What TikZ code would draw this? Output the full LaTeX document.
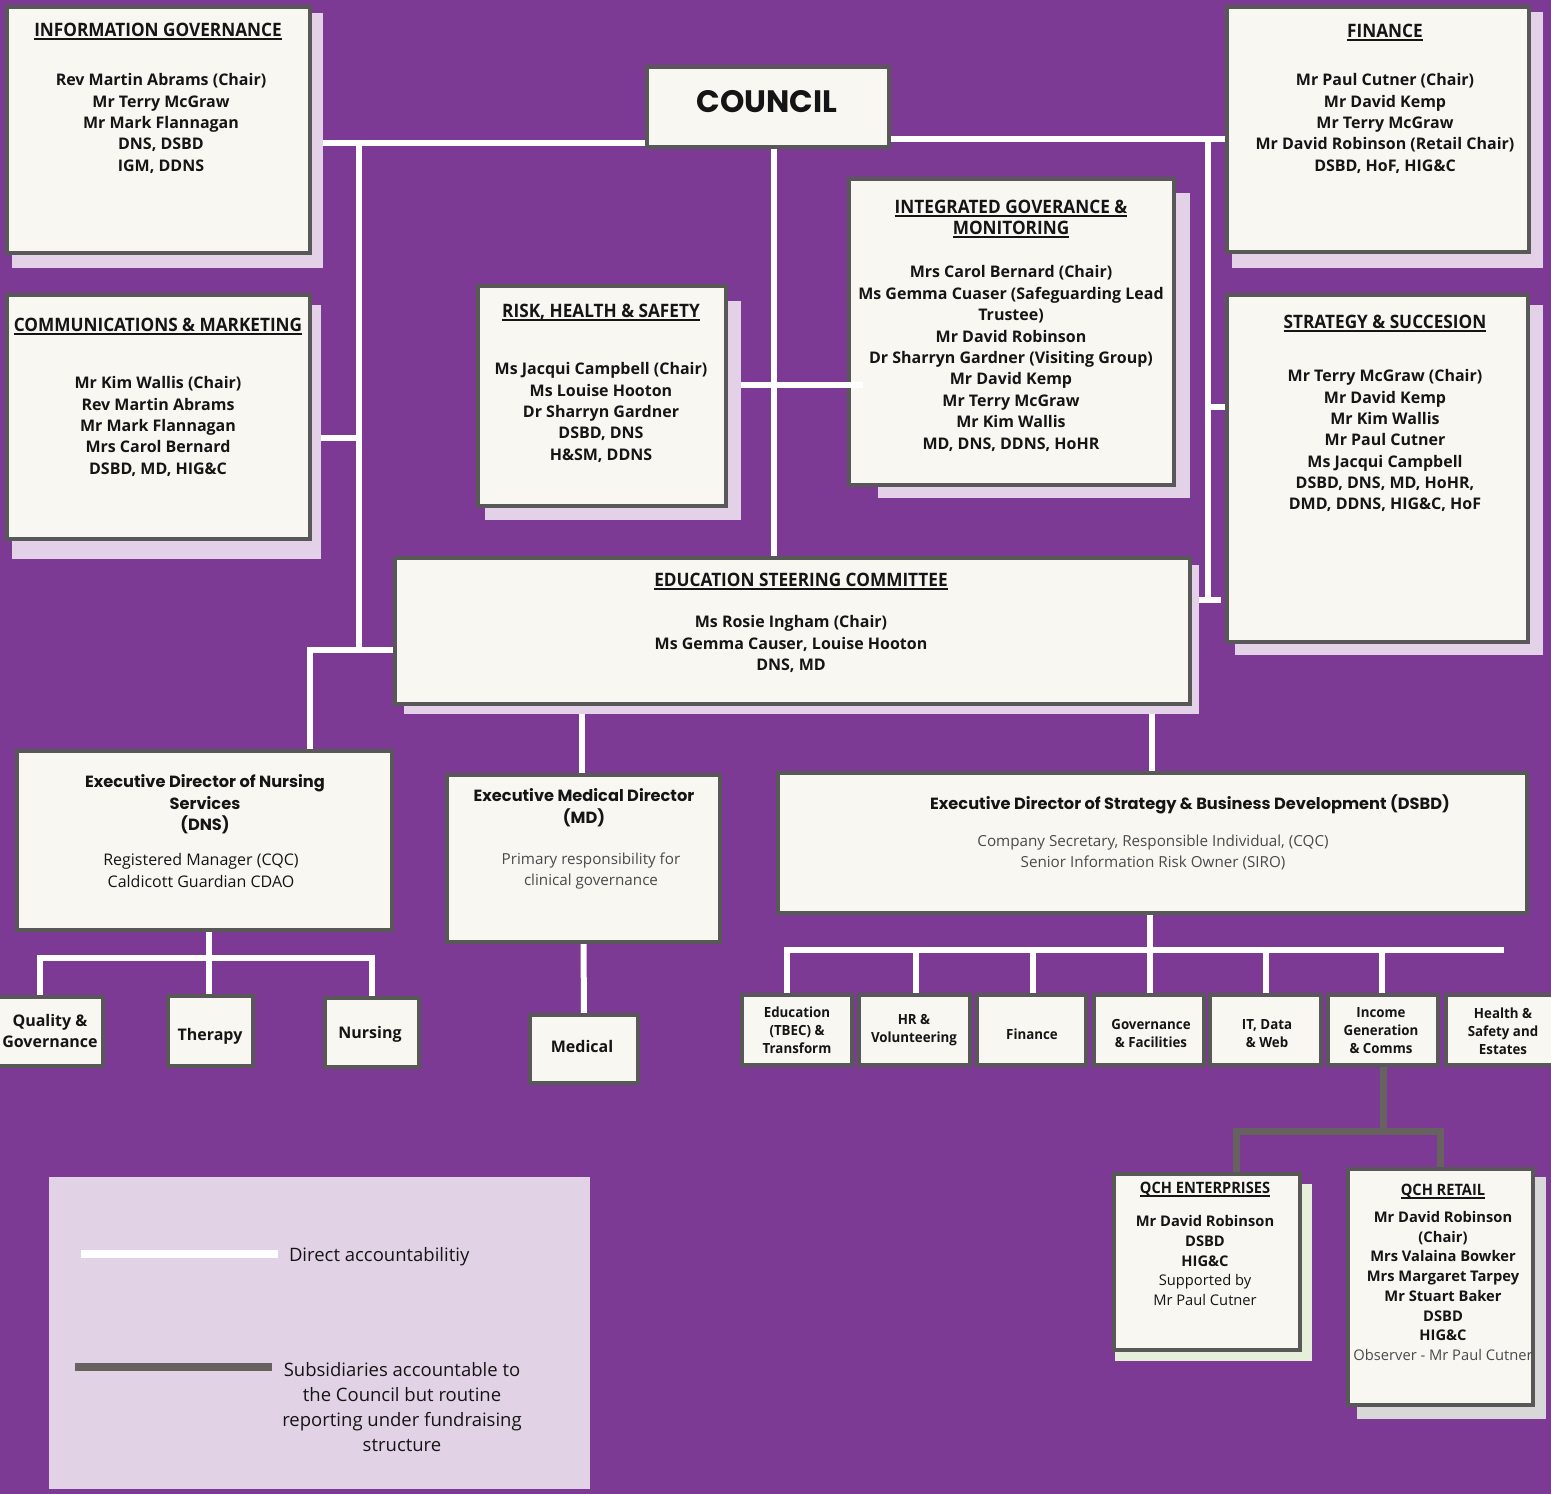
\documentclass[tikz,border=0pt]{standalone}
\usepackage{fontspec}
\setmainfont{Open Sans}
\newfontfamily\geo{Poppins}
\newfontfamily\cond[FakeStretch=0.93]{Open Sans}
\newfontfamily\condb[FakeStretch=0.95]{Open Sans}
\usetikzlibrary{calc}
\definecolor{bgp}{HTML}{7C3A94}
\definecolor{boxfill}{HTML}{F8F7F2}
\definecolor{boxline}{HTML}{585858}
\definecolor{lav}{HTML}{E3D2E7}
\definecolor{legbg}{HTML}{E2D2E6}
\definecolor{grayline}{HTML}{676260}
\definecolor{tdark}{HTML}{151515}
\definecolor{tgray}{HTML}{4A4A4A}
\definecolor{entshadow}{HTML}{E5EFD9}
\definecolor{retshadow}{HTML}{D8D8D8}
\pgfdeclarelayer{back}\pgfdeclarelayer{lines}\pgfdeclarelayer{shade}
\pgfsetlayers{back,lines,shade,main}
\newsavebox\ulb
\newcommand\ulin[1]{\sbox\ulb{#1}\usebox\ulb\llap{\rule[-3.3pt]{\wd\ulb}{1.8pt}}}
\newcommand\mkbox[5]{\node[box, anchor=north west, minimum width={(#4-#2-4)*1pt}, minimum height={(#5-#3-4)*1pt}] (#1) at (#2+2,#3+2) {};}
\begin{document}
\begin{tikzpicture}[x=1pt,y=-1pt,
  box/.style={draw=boxline, line width=4pt, fill=boxfill, inner sep=0pt, outer sep=0pt},
  wl/.style={draw=white, line width=6pt},
  gl/.style={draw=grayline, line width=7pt},
  lbl/.style={anchor=north, inner sep=0pt, outer sep=0pt, align=center, text=tdark, execute at begin node=\strut},
  ttl/.style={lbl, font=\cond\bfseries\fontsize{18.5}{21}\selectfont, yshift=8pt},
  body/.style={lbl, font=\bfseries\fontsize{16}{21.3}\selectfont, yshift=4.2pt},
  counciltxt/.style={lbl, font=\geo\bfseries\fontsize{31}{36}\selectfont, yshift=14pt},
  xtitle/.style={lbl, font=\geo\bfseries\fontsize{16.2}{21.5}\selectfont, yshift=6.2pt},
  xsub/.style={lbl, font=\fontsize{16}{22}\selectfont, text=tdark, yshift=4.6pt},
  gsub/.style={lbl, font=\fontsize{15.2}{21}\selectfont, text=tgray, yshift=4.3pt},
  small/.style={lbl, font=\bfseries\fontsize{16}{21}\selectfont, yshift=7.4pt},
  tiny/.style={lbl, font=\condb\bfseries\fontsize{14}{18}\selectfont, yshift=4.5pt},
  qttl/.style={lbl, font=\cond\bfseries\fontsize{15.7}{20}\selectfont, yshift=8.3pt},
  qbody/.style={lbl, font=\fontsize{14.7}{19.8}\selectfont, yshift=4.6pt},
  leg/.style={lbl, font=\fontsize{18.5}{25}\selectfont, text=tdark, yshift=10.9pt}]
\useasboundingbox (0,0) rectangle (1551,1494);
\begin{pgfonlayer}{back}
\fill[bgp] (0,0) rectangle (1551,1494);
\fill[legbg] (49,1177) rectangle (590,1489);
\end{pgfonlayer}

% boxes
\mkbox{info}{5}{5}{312}{255}
\mkbox{comms}{5}{293}{312}{541}
\mkbox{risk}{476}{284}{728}{508}
\mkbox{igm}{847}{177}{1176}{487}
\mkbox{fin}{1225}{5}{1531}{254}
\mkbox{strat}{1225}{293}{1530}{644}
\mkbox{council}{645}{65}{891}{149}
\mkbox{edu}{393}{556}{1192}{706}
\mkbox{dns}{15}{749}{394}{932}
\mkbox{md}{445}{773}{722}{944}
\mkbox{dsbd}{776}{771}{1529}{915}
\mkbox{qual}{-5}{995}{105}{1068}
\mkbox{therapy}{166}{994}{255}{1068}
\mkbox{nurs}{323}{996}{421}{1069}
\mkbox{medical}{528}{1013}{640}{1085}
\mkbox{bA}{740}{993}{854}{1067}
\mkbox{bB}{857}{993}{972}{1067}
\mkbox{bC}{975}{993}{1088}{1067}
\mkbox{bD}{1092}{993}{1206}{1067}
\mkbox{bE}{1208}{993}{1323}{1067}
\mkbox{bF}{1326}{993}{1440}{1067}
\mkbox{bG}{1444}{993}{1558}{1067}
\mkbox{ent}{1112}{1172}{1302}{1352}
\mkbox{ret}{1346}{1167}{1535}{1407}

% shadows
\begin{pgfonlayer}{shade}
\fill[lav] (12,13) rectangle (323,268);
\fill[lav] (12,305) rectangle (321,559);
\fill[lav] (485,301) rectangle (741,520);
\fill[lav] (878,193) rectangle (1190,498);
\fill[lav] (1232,12) rectangle (1543,268);
\fill[lav] (1235,305) rectangle (1543,655);
\fill[lav] (404,565) rectangle (1199,714);
\fill[entshadow] (1115,1184) rectangle (1312,1361);
\fill[retshadow] (1357,1177) rectangle (1546,1419);
\end{pgfonlayer}

% junctions
\coordinate (jTL) at (359,143);
\coordinate (jBL) at (359,650);
\coordinate (jC) at (359,438);
\coordinate (jDN) at (310,650);
\coordinate (jCV) at (774,385);
\coordinate (jTR) at (1208,139);
\coordinate (jBR) at (1208,600);
\coordinate (jS) at (1208,407);
\coordinate (jMD) at (582,720);
\coordinate (jDS) at (1152,720);
\coordinate (jN) at (209,958);
\coordinate (jQ) at (40,958);
\coordinate (jNu) at (372,958);
\coordinate (jD) at (1150,950);
\coordinate (jD1) at (787,950);
\coordinate (jDE) at (1504,950);
\coordinate (jHR) at (916,950);
\coordinate (jFi) at (1033,950);
\coordinate (jIT) at (1266,950);
\coordinate (jIn) at (1382,950);
\coordinate (jG) at (1383,1131);
\coordinate (jGE) at (1236,1131);
\coordinate (jGR) at (1440,1131);

\begin{pgfonlayer}{lines}
\draw[wl] (info.east |- jTL) -- (council.west |- jTL);
\draw[wl] (jTL) -- (jBL);
\draw[wl] (comms.east |- jC) -- (jC);
\draw[wl] (edu.west |- jDN) -- (jDN) -- (dns.north -| jDN);
\draw[wl] (council.south -| jCV) -- (edu.north -| jCV);
\draw[wl] (council.east |- jTR) -- (fin.west |- jTR);
\draw[wl] (jTR) -- (jBR);
\draw[wl] (jS) -- (strat.west |- jS);
\draw[wl] (edu.east |- jBR) -- ($(jBR)+(13,0)$);
\draw[wl] (edu.south -| jMD) -- (md.north -| jMD);
\draw[wl] (edu.south -| jDS) -- (dsbd.north -| jDS);
\draw[wl] (dns.south -| jN) -- (therapy.north -| jN);
\draw[wl] (qual.north -| jQ) -- (jQ) -- (jNu) -- (nurs.north -| jNu);
\draw[wl] (md.south) -- (medical.north);
\draw[wl] (dsbd.south -| jD) -- (bD.north -| jD);
\draw[wl] (bA.north -| jD1) -- (jD1) -- (jDE);
\draw[wl] (jHR) -- (bB.north -| jHR);
\draw[wl] (jFi) -- (bC.north -| jFi);
\draw[wl] (jIT) -- (bE.north -| jIT);
\draw[wl] (jIn) -- (bF.north -| jIn);
\draw[gl] (bF.south -| jG) -- (jG);
\draw[gl] (ent.north -| jGE) -- (jGE) -- (jGR) -- (ret.north -| jGR);
\end{pgfonlayer}
\draw[wl] ($(risk.east |- jCV)+(15,0)$) -- ($(igm.west |- jCV)+(14,0)$);

% legend
\coordinate (lw1) at (81,1254); \coordinate (lw2) at (278,1254);
\coordinate (lg1) at (75,1367); \coordinate (lg2) at (272,1367);
\draw[white, line width=8pt] (lw1) -- (lw2);
\draw[grayline, line width=8pt] (lg1) -- (lg2);
\node[leg, anchor=north west] (legA) at (289,1255) {Direct accountabilitiy};
\node[leg] (legB) at (402,1373) {Subsidiaries accountable to\\the Council but routine\\reporting under fundraising\\structure};

% texts
\node[ttl] (infoT) at (158,30) {\ulin{INFORMATION GOVERNANCE}};
\node[body] (infoB) at (161,78) {Rev Martin Abrams (Chair)\\Mr Terry McGraw\\Mr Mark Flannagan\\DNS, DSBD\\IGM, DDNS};
\node[ttl] (commsT) at (158,325) {\ulin{COMMUNICATIONS \& MARKETING}};
\node[body] (commsB) at (158,381) {Mr Kim Wallis (Chair)\\Rev Martin Abrams\\Mr Mark Flannagan\\Mrs Carol Bernard\\DSBD, MD, HIG\&C};
\node[ttl] (riskT) at (601,311) {\ulin{RISK, HEALTH \& SAFETY}};
\node[body] (riskB) at (601,367) {Ms Jacqui Campbell (Chair)\\Ms Louise Hooton\\Dr Sharryn Gardner\\DSBD, DNS\\H\&SM, DDNS};
\node[ttl] (igmT) at (1011,208) {\ulin{INTEGRATED GOVERANCE \&}\\\ulin{MONITORING}};
\node[body, font=\bfseries\fontsize{16}{21.4}\selectfont] (igmB) at (1011,270) {Mrs Carol Bernard (Chair)\\Ms Gemma Cuaser (Safeguarding Lead\\Trustee)\\Mr David Robinson\\Dr Sharryn Gardner (Visiting Group)\\Mr David Kemp\\Mr Terry McGraw\\Mr Kim Wallis\\MD, DNS, DDNS, HoHR};
\node[ttl] (finT) at (1385,31) {\ulin{FINANCE}};
\node[body] (finB) at (1385,78) {Mr Paul Cutner (Chair)\\Mr David Kemp\\Mr Terry McGraw\\Mr David Robinson (Retail Chair)\\DSBD, HoF, HIG\&C};
\node[ttl] (stratT) at (1385,322) {\ulin{STRATEGY \& SUCCESION}};
\node[body] (stratB) at (1385,374) {Mr Terry McGraw (Chair)\\Mr David Kemp\\Mr Kim Wallis\\Mr Paul Cutner\\Ms Jacqui Campbell\\DSBD, DNS, MD, HoHR,\\DMD, DDNS, HIG\&C, HoF};
\node[ttl] (eduT) at (801,580) {\ulin{EDUCATION STEERING COMMITTEE}};
\node[body] (eduB) at (791,620) {Ms Rosie Ingham (Chair)\\Ms Gemma Causer, Louise Hooton\\DNS, MD};
\node[counciltxt] (councilT) at (767,101) {COUNCIL};
\node[xtitle] (dnsT) at (205,781) {Executive Director of Nursing\\Services\\(DNS)};
\node[xsub] (dnsS) at (201,858) {Registered Manager (CQC)\\Caldicott Guardian CDAO};
\node[xtitle, font=\geo\bfseries\fontsize{16.2}{22}\selectfont] (mdT) at (584,795) {Executive Medical Director\\(MD)};
\node[gsub] (mdS) at (591,857) {Primary responsibility for\\clinical governance};
\node[xtitle] (dsbdT) at (1190,801) {Executive Director of Strategy \& Business Development (DSBD)};
\node[gsub] (dsbdS) at (1153,839) {Company Secretary, Responsible Individual, (CQC)\\Senior Information Risk Owner (SIRO)};
\node[small] (qualT) at (50,1022) {Quality \&\\Governance};
\node[small] (therT) at (210,1033) {Therapy};
\node[small] (nursT) at (370,1031) {Nursing};
\node[small] (medT) at (582,1045) {Medical};
\node[tiny] (bAT) at (797,1011) {Education\\(TBEC) \&\\Transform};
\node[tiny] (bBT) at (914,1019) {HR \&\\Volunteering};
\node[tiny] (bCT) at (1032,1031) {Finance};
\node[tiny] (bDT) at (1151,1024) {Governance\\\& Facilities};
\node[tiny] (bET) at (1267,1024) {IT, Data\\\& Web};
\node[tiny] (bFT) at (1381,1012) {Income\\Generation\\\& Comms};
\node[tiny] (bGT) at (1503,1012) {Health \&\\Safety and\\Estates};
\node[qttl] (entT) at (1205,1188) {\ulin{QCH ENTERPRISES}};
\node[qbody] (entB) at (1205,1220) {\textbf{Mr David Robinson}\\\textbf{DSBD}\\\textbf{HIG\&C}\\Supported by\\Mr Paul Cutner};
\node[qttl] (retT) at (1443,1190) {\ulin{QCH RETAIL}};
\node[qbody, font=\fontsize{14.7}{19.7}\selectfont] (retB) at (1443,1216) {\textbf{Mr David Robinson}\\\textbf{(Chair)}\\\textbf{Mrs Valaina Bowker}\\\textbf{Mrs Margaret Tarpey}\\\textbf{Mr Stuart Baker}\\\textbf{DSBD}\\\textbf{HIG\&C}\\\textcolor{tgray}{Observer - Mr Paul Cutner}};
\end{tikzpicture}
\end{document}
